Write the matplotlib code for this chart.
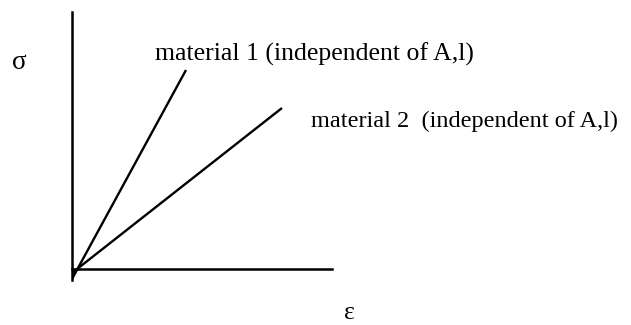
import matplotlib
matplotlib.use("Agg")
import matplotlib.pyplot as plt

# stress-strain sketch, arbitrary units (x: strain, y: stress)
strain_1 = [0.0, 11.4]
stress_1 = [-1.0, 19.9]
strain_2 = [0.0, 21.0]
stress_2 = [-0.4, 16.1]

label_1 = "material 1 (independent of A,l)"
label_2 = "material 2  (independent of A,l)"
x_label = "\u03b5"
y_label = "\u03c3"

W, H = 631, 325
plt.rcParams["font.family"] = ["Liberation Serif", "DejaVu Serif"]

fig = plt.figure(figsize=(W / 100, H / 100), dpi=100)

# axes box in pixels: left 72, right 332, top 12, bottom 280
ax = fig.add_axes([72 / W, 1 - 280 / H, 260 / W, 268 / H])
ax.set_xlim(0, 26)
ax.set_ylim(-1.1, 25.7)

ax.plot(strain_1, stress_1, color="black", lw=1.7, solid_capstyle="butt")
ax.plot(strain_2, stress_2, color="black", lw=1.7, solid_capstyle="butt")

for side in ["top", "right"]:
    ax.spines[side].set_visible(False)
ax.spines["bottom"].set_position(("data", 0))
ax.spines["left"].set_linewidth(1.8)
ax.spines["bottom"].set_linewidth(1.8)
ax.set_xticks([])
ax.set_yticks([])
ax.patch.set_visible(False)


def put(text, px, py, size=18.5, **kw):
    fig.text(px / W, 1 - py / H, text, fontsize=size, va="baseline", **kw)


put(y_label, 12, 69, size=19.5)
put(x_label, 344, 319)
put(label_1, 155, 61)
put(label_2, 311, 127, size=17.5)

fig.savefig("out.png", dpi=100)
